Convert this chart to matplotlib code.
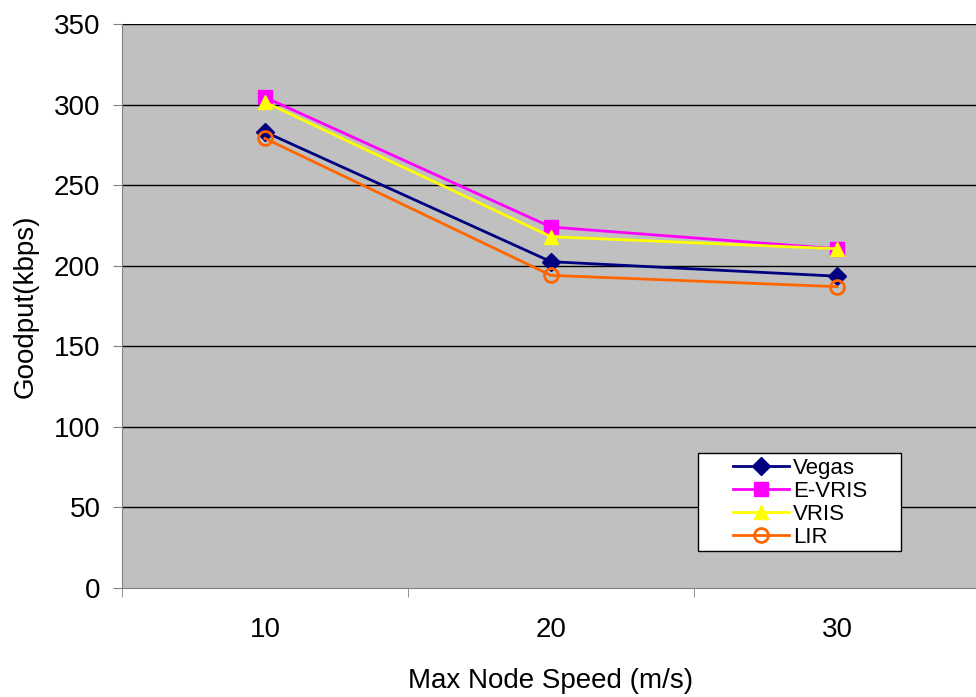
import matplotlib
matplotlib.use("Agg")
import matplotlib.pyplot as plt
from matplotlib.patches import Rectangle

categories = ["10", "20", "30"]
vegas = [283, 202.5, 193.5]
evris = [304.5, 224, 210.5]
vris = [301.5, 218, 210.5]
lir = [279, 194, 187]
yticks = [0, 50, 100, 150, 200, 250, 300, 350]

plt.rcParams['font.family'] = ['Liberation Sans', 'DejaVu Sans']

W, H = 976, 697
fig = plt.figure(figsize=(W/100, H/100), dpi=100)
L, R, T, B = 122, 980, 24, 588
ax = fig.add_axes([L/W, 1 - B/H, (R-L)/W, (B-T)/H])
ax.set_facecolor('#c0c0c0')

x = [1, 2, 3]
for ys in yticks[1:]:
    ax.axhline(ys, color='black', lw=1, zorder=1)

ax.plot(x, vegas, color='#000080', marker='D', ms=9, lw=2, label='Vegas', zorder=3)
ax.plot(x, evris, color='#ff00ff', marker='s', ms=10, lw=2, label='E-VRIS', zorder=3)
ax.plot(x, vris, color='#ffff00', marker='^', ms=10, lw=2, label='VRIS', zorder=4)
ax.plot(x, lir, color='#ff6600', marker='o', ms=10, lw=2, mfc='none', mew=2, label='LIR', zorder=5)

ax.set_xlim(0.5, 3.5)
ax.set_ylim(0, 350)
ax.set_yticks(yticks)
ax.set_xticks(x)
ax.set_xticklabels(categories)
ax.set_xticks([0.5, 1.5, 2.5, 3.5], minor=True)
ax.tick_params(axis='x', which='major', length=0, pad=21, labelsize=20)
ax.tick_params(axis='x', which='minor', length=6.5, color='#808080')
ax.tick_params(axis='y', length=6.5, color='#808080', labelsize=20, pad=9)
for s in ['top', 'right']:
    ax.spines[s].set_visible(False)
for s in ['left', 'bottom']:
    ax.spines[s].set_color('#808080')

ax.set_ylabel('Goodput(kbps)', fontsize=20, labelpad=11)
ax.set_xlabel('Max Node Speed (m/s)', fontsize=20, labelpad=18)

def fx(px):
    return (px - L) / (R - L)

def fy(py):
    return (B - py) / (B - T)

box = Rectangle((fx(698), fy(551)), fx(901) - fx(698), fy(453) - fy(551),
                transform=ax.transAxes, facecolor='white', edgecolor='black', lw=1, zorder=6)
ax.add_patch(box)

leg = ax.legend(loc='upper left', bbox_to_anchor=(fx(733), fy(458)),
                fontsize=16, frameon=False, borderpad=0, labelspacing=0.09, handlelength=2.5,
                handletextpad=0.2, borderaxespad=0)
leg.set_zorder(7)

fig.savefig('out.png', dpi=100)
